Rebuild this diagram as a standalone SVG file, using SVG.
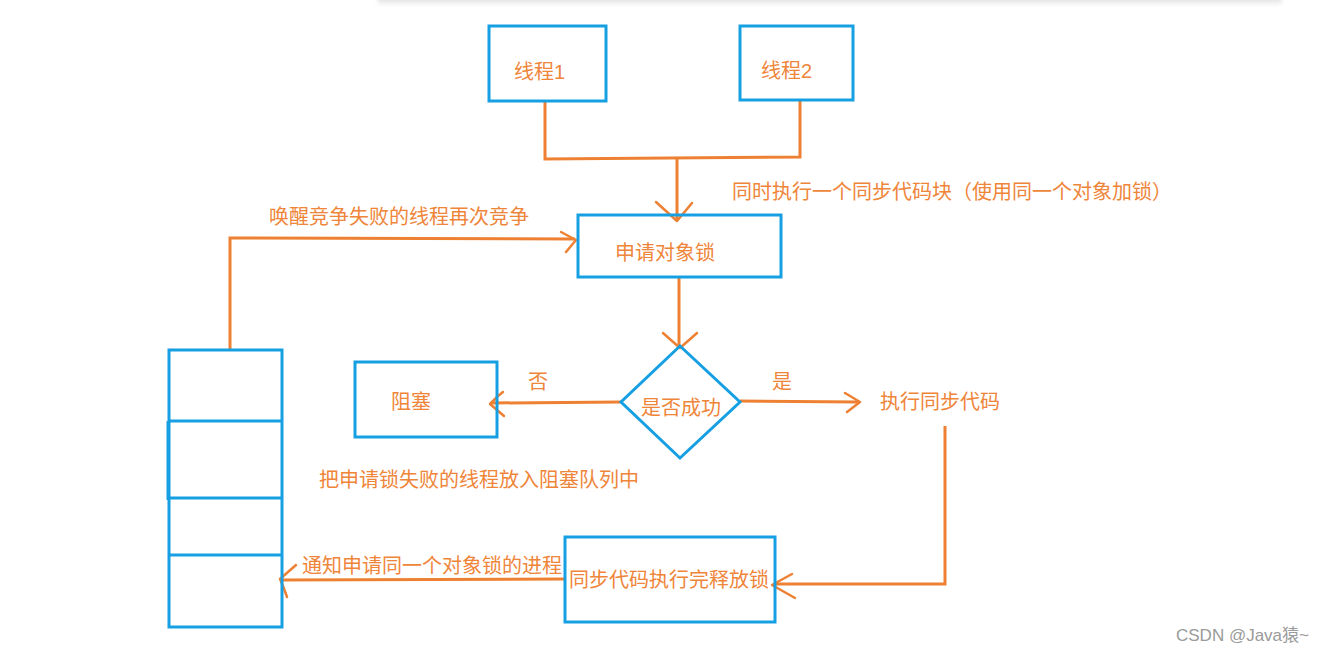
<svg xmlns="http://www.w3.org/2000/svg" width="1332" height="654" viewBox="0 0 1332 654">
<style>
.box{fill:none;stroke:#169fe2;stroke-width:3}
.ln{fill:none;stroke:#ee8033;stroke-width:3;stroke-linejoin:miter}
.ah{fill:none;stroke:#ee8033;stroke-width:2.5;stroke-linecap:round;stroke-linejoin:round}
.t{font-family:"Liberation Sans","Noto Sans CJK SC",sans-serif;font-size:20px;fill:#ef8539}
.wm{font-family:"Liberation Sans","Noto Sans CJK SC",sans-serif;font-size:17px;fill:#9a9a9a}
</style>
<defs>
<linearGradient id="sh" x1="0" y1="0" x2="0" y2="1">
<stop offset="0" stop-color="#d4d4d4"/>
<stop offset="1" stop-color="#ffffff"/>
</linearGradient>
<filter id="bl" x="-5%" y="-100%" width="110%" height="300%"><feGaussianBlur stdDeviation="2"/></filter>
</defs>
<rect width="1332" height="654" fill="#ffffff"/>
<rect x="378" y="-4" width="904" height="10" fill="url(#sh)" filter="url(#bl)"/>

<g id="connectors">
<polyline class="ln" points="545,101 545,159 800,157 800,100"/>
<line class="ln" x1="677" y1="158" x2="677" y2="221"/>
<polyline class="ah" points="656,202 677,221 692,203"/>
<line class="ln" x1="679" y1="277" x2="679" y2="347"/>
<polyline class="ah" points="663,333 680,348 697,333"/>
<line class="ln" x1="621" y1="402" x2="492" y2="403"/>
<polyline class="ah" points="503,392 498,396 490,404 504,416"/>
<line class="ln" x1="740" y1="401" x2="858" y2="402"/>
<polyline class="ah" points="845,393 860,402 847,412"/>
<polyline class="ln" points="945,426 945,584 774,584"/>
<polyline class="ah" points="792,574 772,585 795,598"/>
<line class="ln" x1="565" y1="579" x2="280" y2="580"/>
<polyline class="ah" points="296,565 280,579 283,586 287,597"/>
<polyline class="ln" points="230,350 230,238 575,239"/>
<polyline class="ah" points="561,232 576,240 566,252"/>
</g>

<g id="thread1">
<rect class="box" x="489" y="26" width="117" height="75"/>
<text class="t" x="514" y="79">线程1</text>
</g>
<g id="thread2">
<rect class="box" x="740" y="26" width="113" height="74"/>
<text class="t" x="761" y="78">线程2</text>
</g>
<g id="label-sync">
<text class="t" x="732" y="199">同时执行一个同步代码块（使用同一个对象加锁）</text>
</g>
<g id="lock">
<rect class="box" x="578" y="215" width="203" height="62"/>
<text class="t" x="615" y="260">申请对象锁</text>
</g>
<g id="decision">
<polygon class="box" points="680,346 740,402 680,458 621,402"/>
<text class="t" x="641" y="415">是否成功</text>
</g>
<g id="block">
<rect class="box" x="355" y="362" width="142" height="75"/>
<text class="t" x="391" y="409">阻塞</text>
</g>
<g id="labels">
<text class="t" x="528" y="389">否</text>
<text class="t" x="772" y="389">是</text>
<text class="t" x="269" y="224">唤醒竞争失败的线程再次竞争</text>
<text class="t" x="319" y="487">把申请锁失败的线程放入阻塞队列中</text>
<text class="t" x="302" y="573">通知申请同一个对象锁的进程</text>
</g>
<g id="exec">
<text class="t" x="880" y="409">执行同步代码</text>
</g>
<g id="release">
<rect class="box" x="565" y="537" width="210" height="85"/>
<text class="t" x="569" y="587">同步代码执行完释放锁</text>
</g>
<g id="queue">
<rect class="box" x="169" y="350" width="113" height="277"/>
<line class="box" x1="169" y1="421" x2="282" y2="421"/>
<line class="box" x1="169" y1="498" x2="282" y2="498"/>
<line class="box" x1="169" y1="555" x2="282" y2="555"/>
<line class="box" x1="168" y1="421" x2="168" y2="500"/>
</g>
<text class="wm" x="1176" y="641">CSDN @Java猿~</text>
</svg>
